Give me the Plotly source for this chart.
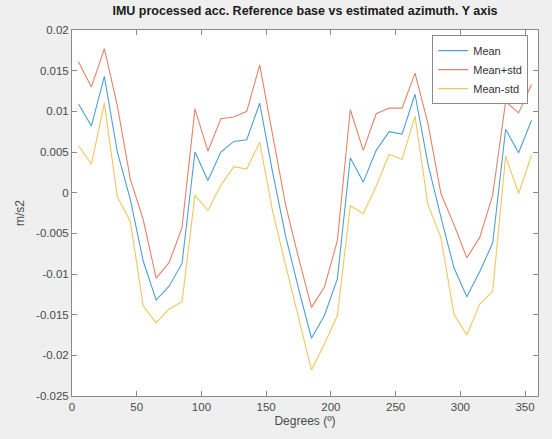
import plotly.graph_objects as go

degrees = [5, 15, 25, 35, 45, 55, 65, 75, 85, 95, 105, 115, 125, 135, 145, 155, 165, 175,
           185, 195, 205, 215, 225, 235, 245, 255, 265, 275, 285, 295, 305, 315, 325, 335, 345, 355]

mean_vals = [0.0109, 0.0082, 0.0143, 0.0050, -0.0008, -0.0084, -0.0132, -0.0115, -0.0087, 0.0050,
             0.0015, 0.0050, 0.0063, 0.0065, 0.0110, 0.0025, -0.0053, -0.0118,
             -0.0179, -0.0151, -0.0106, 0.0043, 0.0013, 0.0052, 0.0075, 0.0072, 0.0121, 0.0035,
             -0.0030, -0.0092, -0.0128, -0.0097, -0.0062, 0.0078, 0.0049, 0.0089]

plus_vals = [0.0161, 0.0130, 0.0177, 0.0107, 0.0017, -0.0033, -0.0105, -0.0086, -0.0043, 0.0103,
             0.0051, 0.0091, 0.0093, 0.0100, 0.0157, 0.0070, -0.0015, -0.0080,
             -0.0141, -0.0116, -0.0059, 0.0102, 0.0052, 0.0097, 0.0104, 0.0104, 0.0147, 0.0085,
             -0.0001, -0.0039, -0.0080, -0.0055, -0.0003, 0.0112, 0.0098, 0.0133]

minus_vals = [0.0058, 0.0035, 0.0110, -0.0005, -0.0035, -0.0139, -0.0160, -0.0143, -0.0134, -0.0003,
              -0.0022, 0.0009, 0.0032, 0.0029, 0.0062, -0.0023, -0.0089, -0.0155,
              -0.0218, -0.0186, -0.0151, -0.0016, -0.0026, 0.0008, 0.0047, 0.0041, 0.0094, -0.0015,
              -0.0055, -0.0149, -0.0175, -0.0137, -0.0121, 0.0045, -0.0001, 0.0046]

x_ticks = [0, 50, 100, 150, 200, 250, 300, 350]
y_ticks = [0.02, 0.015, 0.01, 0.005, 0, -0.005, -0.01, -0.015, -0.02, -0.025]
y_tick_labels = ["0.02", "0.015", "0.01", "0.005", "0", "-0.005", "-0.01", "-0.015", "-0.02", "-0.025"]

series = [
    ("Mean", mean_vals, "#4f9fd6"),
    ("Mean+std", plus_vals, "#e5836b"),
    ("Mean-std", minus_vals, "#f2c65e"),
]

FONT = "Liberation Sans, Arial, sans-serif"

fig = go.Figure()
for name, vals, color in series:
    fig.add_trace(go.Scatter(x=degrees, y=vals, mode="lines", name=name,
                             line=dict(color=color, width=1.1)))

axis_common = dict(
    showgrid=False, zeroline=False,
    showline=True, linecolor="#8a8a8a", linewidth=1, mirror="ticks",
    ticks="inside", ticklen=5, tickcolor="#8a8a8a",
    tickfont=dict(family=FONT, size=11.5, color="#4a4a4a"),
)

fig.update_xaxes(range=[0, 360], tickvals=x_ticks, ticktext=[str(t) for t in x_ticks],
                 title=dict(text="Degrees (º)", font=dict(family=FONT, size=12, color="#4a4a4a"),
                            standoff=4),
                 **axis_common)
fig.update_yaxes(range=[-0.025, 0.02], tickvals=y_ticks, ticktext=y_tick_labels,
                 title=dict(text="m/s2", font=dict(family=FONT, size=12, color="#4a4a4a"),
                            standoff=8),
                 **axis_common)

fig.update_layout(
    width=552, height=439,
    margin=dict(l=72, r=14, t=30, b=43),
    paper_bgcolor="#efefef", plot_bgcolor="#ffffff",
    title=dict(text="<b>IMU processed acc. Reference base vs estimated azimuth. Y axis</b>",
               x=(72 + 538) / 2 / 552, xanchor="center", y=1 - 11 / 439, yanchor="middle",
               font=dict(family=FONT, size=12.5, color="#1a1a1a")),
    legend=dict(x=0.979, xanchor="right", y=0.986, yanchor="top",
                bgcolor="#ffffff", bordercolor="#8a8a8a", borderwidth=1,
                font=dict(family=FONT, size=11, color="#333333"),
                tracegroupgap=0, itemwidth=30),
    showlegend=True,
)

fig.write_html("out.html",
               config={"displayModeBar": False},
               post_script="document.body.style.margin='0';document.body.style.overflow='hidden';")
